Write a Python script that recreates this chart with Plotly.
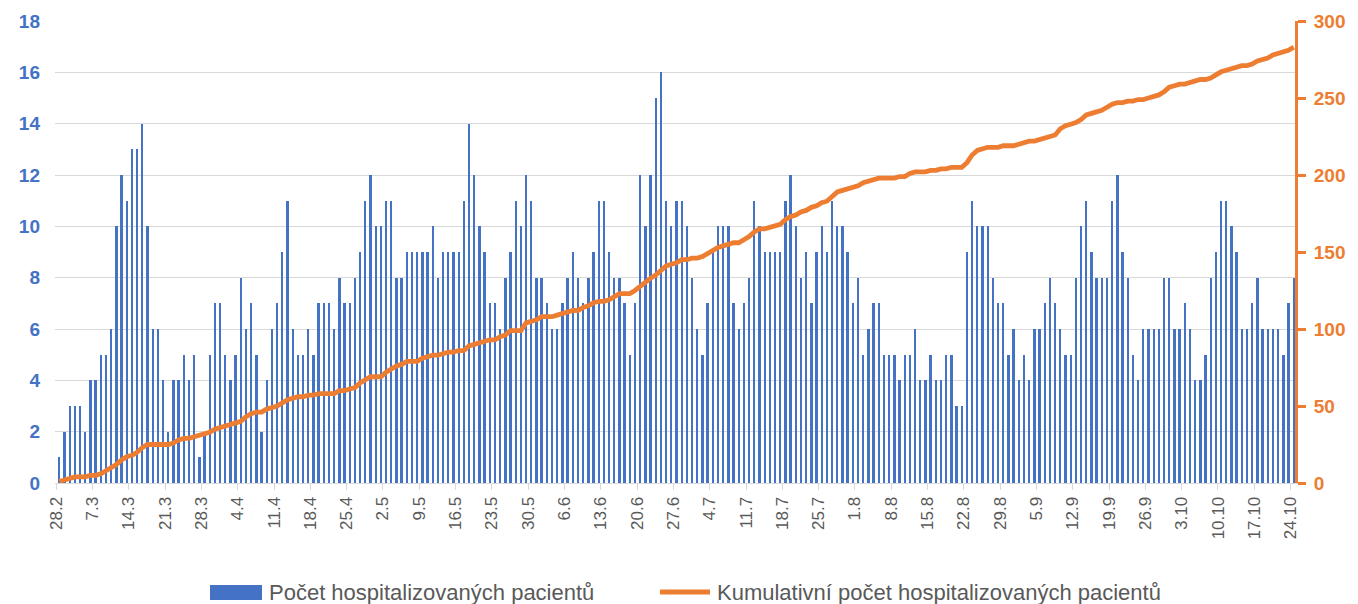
import plotly.graph_objects as go

# Daily counts, 28.2 .. 24.10 (239 days)
daily_counts = [
    1, 2, 3, 3, 3, 2, 4, 4, 5, 5, 6, 10, 12, 11, 13, 13, 14, 10, 6, 6,
    4, 2, 4, 4, 5, 4, 5, 1, 2, 5, 7, 7, 5, 4, 5, 8, 6, 7, 5, 2,
    4, 6, 7, 9, 11, 6, 5, 5, 6, 5, 7, 7, 7, 6, 8, 7, 7, 8, 9, 11,
    12, 10, 10, 11, 11, 8, 8, 9, 9, 9, 9, 9, 10, 8, 9, 9, 9, 9, 11, 14,
    12, 10, 9, 7, 7, 6, 8, 9, 11, 10, 12, 11, 8, 8, 7, 6, 6, 7, 8, 9,
    8, 7, 8, 9, 11, 11, 9, 8, 8, 7, 5, 7, 12, 10, 12, 15, 16, 11, 10, 11,
    11, 10, 8, 6, 5, 7, 9, 10, 10, 10, 7, 6, 7, 8, 11, 10, 9, 9, 9, 9,
    11, 12, 10, 8, 9, 7, 9, 10, 9, 11, 10, 10, 9, 7, 8, 5, 6, 7, 7, 5,
    5, 5, 4, 5, 5, 6, 4, 4, 5, 4, 4, 5, 5, 3, 3, 9, 11, 10, 10, 10,
    8, 7, 7, 5, 6, 4, 5, 4, 6, 6, 7, 8, 7, 6, 5, 5, 8, 10, 11, 9,
    8, 8, 8, 11, 12, 9, 8, 5, 4, 6, 6, 6, 6, 8, 8, 6, 6, 7, 6, 4,
    4, 5, 8, 9, 11, 11, 10, 9, 6, 6, 7, 8, 6, 6, 6, 6, 5, 7, 8,
]

cumulative = [
    1, 2, 3, 4, 4, 4, 5, 5, 6, 8, 10, 12, 15, 17, 18, 20, 23, 25, 25, 25,
    25, 25, 26, 28, 29, 29, 30, 31, 32, 33, 35, 36, 37, 38, 39, 40, 43, 45, 46, 46,
    48, 49, 50, 52, 54, 55, 56, 56, 57, 57, 58, 58, 58, 58, 60, 60, 61, 62, 65, 67,
    69, 69, 69, 72, 74, 76, 77, 79, 79, 79, 81, 82, 83, 83, 84, 85, 85, 86, 86, 89,
    90, 91, 92, 93, 93, 95, 96, 99, 99, 99, 104, 105, 106, 108, 108, 108, 109, 110, 111, 112,
    112, 114, 115, 117, 118, 118, 119, 121, 123, 123, 123, 125, 128, 131, 133, 135, 138, 141, 142, 143,
    145, 145, 146, 146, 147, 149, 151, 153, 154, 155, 156, 156, 158, 160, 163, 165, 165, 166, 167, 168,
    171, 173, 174, 176, 177, 179, 180, 182, 183, 186, 189, 190, 191, 192, 193, 195, 196, 197, 198, 198,
    198, 198, 199, 199, 201, 202, 202, 202, 203, 203, 204, 204, 205, 205, 205, 208, 213, 216, 217, 218,
    218, 218, 219, 219, 219, 220, 221, 222, 222, 223, 224, 225, 226, 230, 232, 233, 234, 236, 239, 240,
    241, 242, 244, 246, 247, 247, 248, 248, 249, 249, 250, 251, 252, 254, 257, 258, 259, 259, 260, 261,
    262, 262, 263, 265, 267, 268, 269, 270, 271, 271, 272, 274, 275, 276, 278, 279, 280, 281, 283,
]

tick_labels = [
    "28.2", "7.3", "14.3", "21.3", "28.3", "4.4", "11.4", "18.4", "25.4", "2.5",
    "9.5", "16.5", "23.5", "30.5", "6.6", "13.6", "20.6", "27.6", "4.7", "11.7",
    "18.7", "25.7", "1.8", "8.8", "15.8", "22.8", "29.8", "5.9", "12.9", "19.9",
    "26.9", "3.10", "10.10", "17.10", "24.10",
]

bar_name = "Počet hospitalizovaných pacientů"
line_name = "Kumulativní počet hospitalizovaných pacientů"

BLUE = "#4472C4"
ORANGE = "#ED7D31"
GRID = "#D9D9D9"
TEXT = "#595959"
FONT = "Liberation Sans, Arial, sans-serif"

n = len(daily_counts)
days = list(range(n))
tick_vals = [7 * k - 0.6 for k in range(len(tick_labels))]

fig = go.Figure()
fig.add_trace(go.Bar(
    x=days, y=daily_counts, name=bar_name, showlegend=False,
    marker=dict(color=BLUE, line=dict(width=0)), width=0.45,
))
fig.add_trace(go.Scatter(
    x=days[:len(cumulative)], y=cumulative, name=line_name, yaxis="y2",
    showlegend=False, mode="lines", line=dict(color=ORANGE, width=4.8),
))

# Legend drawn in paper coordinates (Excel-style wide swatches)
L, R, T, B = 55, 1295, 21, 483
def px(x):
    return (x - L) / (R - L)
def py(y):
    return (B - y) / (B - T)

shapes = [
    dict(type="rect", xref="paper", yref="paper",
         x0=px(210), x1=px(262), y0=py(585), y1=py(600),
         fillcolor=BLUE, line=dict(width=0)),
    dict(type="line", xref="paper", yref="paper",
         x0=px(660), x1=px(710), y0=py(592), y1=py(592),
         line=dict(color=ORANGE, width=4.8)),
]
annotations = [
    dict(text=bar_name, xref="paper", yref="paper", x=px(267), y=py(592),
         xanchor="left", yanchor="middle", showarrow=False,
         font=dict(size=22, color=TEXT, family=FONT)),
    dict(text=line_name, xref="paper", yref="paper", x=px(715), y=py(592),
         xanchor="left", yanchor="middle", showarrow=False,
         font=dict(size=22, color=TEXT, family=FONT)),
]

fig.update_layout(
    width=1358, height=604,
    margin=dict(l=L, r=1358 - R, t=T, b=604 - B, autoexpand=False),
    paper_bgcolor="white", plot_bgcolor="white",
    font=dict(family=FONT, color=TEXT),
    bargap=0,
    showlegend=False,
    shapes=shapes,
    annotations=annotations,
    xaxis=dict(
        range=[-0.83, 238.25], automargin=False,
        tickmode="array", tickvals=tick_vals, ticktext=tick_labels,
        tickangle=-90, tickfont=dict(size=17, color=TEXT),
        ticks="outside", ticklen=6, tickcolor=GRID, tickwidth=1,
        showline=True, linecolor=GRID, linewidth=1,
        showgrid=False, zeroline=False,
    ),
    yaxis=dict(
        range=[0, 18], dtick=2, automargin=False,
        tickfont=dict(size=19, color=BLUE, weight="bold"),
        showgrid=True, gridcolor=GRID, gridwidth=1,
        zeroline=False, showline=False, ticks="", ticklabelstandoff=14,
    ),
    yaxis2=dict(
        range=[0, 300], dtick=50, overlaying="y", side="right", automargin=False,
        tickfont=dict(size=19, color=ORANGE, weight="bold"),
        showgrid=False, zeroline=False,
        showline=True, linecolor=ORANGE, linewidth=3,
        ticks="outside", ticklen=8, tickcolor=ORANGE, tickwidth=3,
        ticklabelstandoff=4,
    ),
)

fig.write_html(
    "out.html",
    config={"displayModeBar": False},
    post_script="document.body.style.margin='0';document.body.style.overflow='hidden';",
)
